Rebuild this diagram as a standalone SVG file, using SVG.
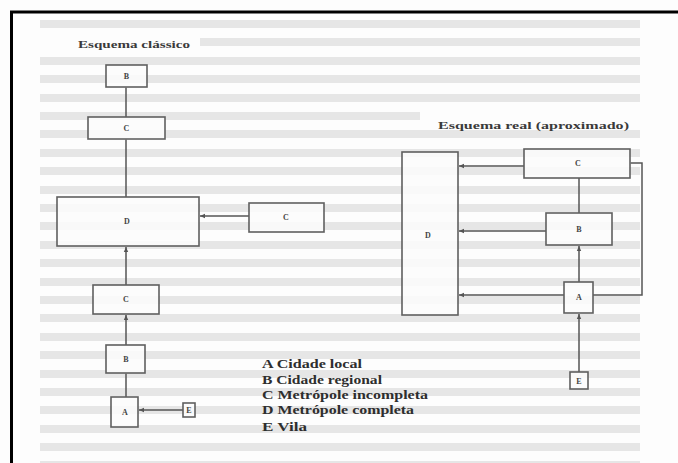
<svg xmlns="http://www.w3.org/2000/svg" width="678" height="463" viewBox="0 0 678 463">
<style>
.box{fill:#fbfbfb;fill-opacity:0.85;stroke:#5f5f5f;stroke-width:1.6}
.lbl{font-family:"Liberation Serif",serif;font-size:8px;fill:#444;text-anchor:middle;font-weight:bold}
.ttl{font-family:"Liberation Serif",serif;font-size:11px;fill:#3a3a3a;font-weight:bold}
.leg{font-family:"Liberation Serif",serif;font-size:12px;fill:#2e2e2e;font-weight:bold}
.con{fill:none;stroke:#555;stroke-width:1.5}
.arr{marker-end:url(#ah)}
.bg{fill:#e6e6e6}
</style>
<defs>
<marker id="ah" markerWidth="6" markerHeight="6" refX="5" refY="3" orient="auto" markerUnits="userSpaceOnUse">
<path d="M0,0.8 L5,3 L0,5.2 z" fill="#555"/>
</marker>
</defs>
<rect x="0" y="0" width="678" height="463" fill="#fdfdfd"/>
<g id="page-texture">
<rect class="bg" x="40" y="20" width="600" height="8"/>
<rect class="bg" x="200" y="38" width="440" height="8"/>
<rect class="bg" x="40" y="57" width="600" height="8"/>
<rect class="bg" x="40" y="75" width="600" height="8"/>
<rect class="bg" x="40" y="94" width="600" height="8"/>
<rect class="bg" x="40" y="112" width="380" height="8"/>
<rect class="bg" x="40" y="130" width="600" height="8"/>
<rect class="bg" x="40" y="149" width="600" height="8"/>
<rect class="bg" x="40" y="167" width="600" height="8"/>
<rect class="bg" x="40" y="186" width="600" height="8"/>
<rect class="bg" x="40" y="204" width="600" height="8"/>
<rect class="bg" x="40" y="222" width="600" height="8"/>
<rect class="bg" x="40" y="241" width="600" height="8"/>
<rect class="bg" x="40" y="259" width="600" height="8"/>
<rect class="bg" x="40" y="278" width="600" height="8"/>
<rect class="bg" x="40" y="296" width="600" height="8"/>
<rect class="bg" x="40" y="314" width="600" height="8"/>
<rect class="bg" x="40" y="333" width="600" height="8"/>
<rect class="bg" x="40" y="351" width="600" height="8"/>
<rect class="bg" x="40" y="370" width="600" height="8"/>
<rect class="bg" x="40" y="388" width="600" height="8"/>
<rect class="bg" x="40" y="406" width="600" height="8"/>
<rect class="bg" x="40" y="425" width="600" height="8"/>
<rect class="bg" x="40" y="443" width="600" height="8"/>
<rect class="bg" x="40" y="461" width="600" height="2"/>
</g>
<g id="frame">
<line x1="10" y1="12" x2="678" y2="12" stroke="#000" stroke-width="3"/>
<line x1="11.5" y1="12" x2="11.5" y2="463" stroke="#000" stroke-width="3"/>
</g>
<g id="titles">
<text class="ttl" x="78" y="48" textLength="112" lengthAdjust="spacingAndGlyphs">Esquema clássico</text>
<text class="ttl" x="438" y="129" textLength="191" lengthAdjust="spacingAndGlyphs">Esquema real (aproximado)</text>
</g>
<g id="connectors">
<line class="con" x1="126" y1="117" x2="126" y2="87.5"/>
<line class="con" x1="126" y1="197" x2="126" y2="139.5"/>
<line class="con arr" x1="126" y1="285" x2="126" y2="247"/>
<line class="con arr" x1="126" y1="345" x2="126" y2="315"/>
<line class="con" x1="126" y1="397" x2="126" y2="373.5"/>
<line class="con arr" x1="249" y1="216" x2="200" y2="216"/>
<line class="con arr" x1="183" y1="410" x2="139" y2="410"/>
<line class="con arr" x1="524" y1="166" x2="459" y2="166"/>
<line class="con arr" x1="546" y1="231" x2="459" y2="231"/>
<line class="con arr" x1="564" y1="295" x2="459" y2="295"/>
<line class="con" x1="579" y1="178" x2="579" y2="213"/>
<line class="con arr" x1="579" y1="282" x2="579" y2="246"/>
<line class="con arr" x1="579" y1="372" x2="579" y2="314"/>
<polyline class="con" points="593,295 642,295 642,163 630.5,163"/>
</g>
<g id="c-B-top"><rect class="box" x="106" y="65" width="41" height="22"/><text class="lbl" x="126.5" y="79">B</text></g>
<g id="c-C-top"><rect class="box" x="88" y="117" width="77" height="22"/><text class="lbl" x="126.5" y="131">C</text></g>
<g id="c-D"><rect class="box" x="57" y="197" width="142" height="49"/><text class="lbl" x="127" y="224">D</text></g>
<g id="c-C-right"><rect class="box" x="249" y="203" width="75" height="29"/><text class="lbl" x="286" y="220">C</text></g>
<g id="c-C-low"><rect class="box" x="93" y="285" width="66" height="29"/><text class="lbl" x="126" y="302">C</text></g>
<g id="c-B-low"><rect class="box" x="106" y="345" width="39" height="28"/><text class="lbl" x="126" y="362">B</text></g>
<g id="c-A"><rect class="box" x="111" y="397" width="27" height="30"/><text class="lbl" x="125" y="415">A</text></g>
<g id="c-E"><rect class="box" x="183" y="403" width="12" height="14"/><text class="lbl" x="189" y="413">E</text></g>
<g id="r-D"><rect class="box" x="402" y="152" width="56" height="163"/><text class="lbl" x="428" y="238">D</text></g>
<g id="r-C"><rect class="box" x="524" y="149" width="106" height="29"/><text class="lbl" x="578" y="166">C</text></g>
<g id="r-B"><rect class="box" x="546" y="213" width="66" height="32"/><text class="lbl" x="579" y="232">B</text></g>
<g id="r-A"><rect class="box" x="564" y="282" width="29" height="31"/><text class="lbl" x="579" y="300">A</text></g>
<g id="r-E"><rect class="box" x="570" y="372" width="18" height="17"/><text class="lbl" x="579" y="384">E</text></g>
<g id="legend">
<text class="leg" x="262" y="368" textLength="100" lengthAdjust="spacingAndGlyphs">A  Cidade local</text>
<text class="leg" x="262" y="384" textLength="120" lengthAdjust="spacingAndGlyphs">B  Cidade regional</text>
<text class="leg" x="262" y="399" textLength="166" lengthAdjust="spacingAndGlyphs">C  Metrópole incompleta</text>
<text class="leg" x="262" y="414" textLength="152" lengthAdjust="spacingAndGlyphs">D  Metrópole completa</text>
<text class="leg" x="262" y="431" textLength="45" lengthAdjust="spacingAndGlyphs">E  Vila</text>
</g>
</svg>
